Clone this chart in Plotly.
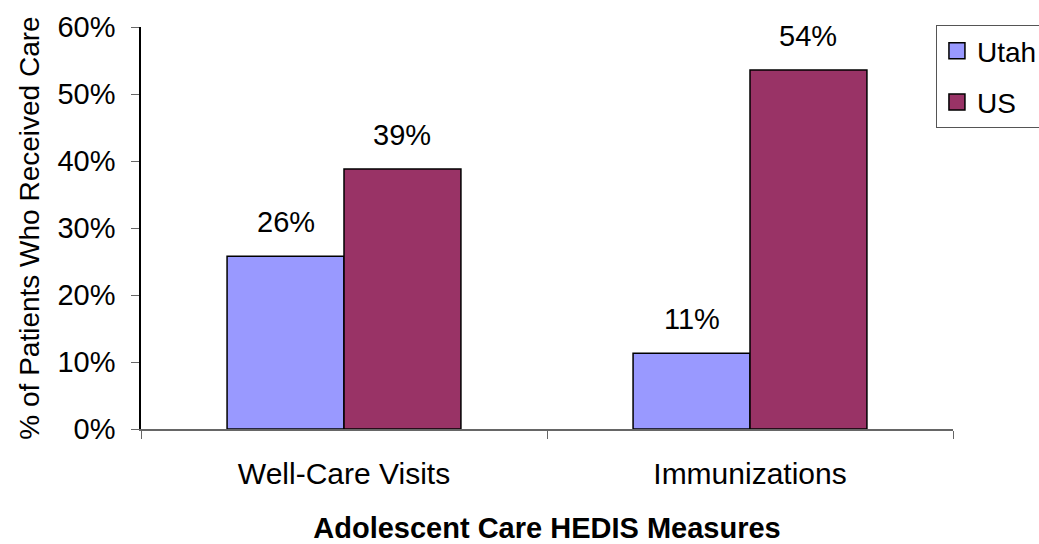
import plotly.graph_objects as go

categories = ["Well-Care Visits", "Immunizations"]
utah = [25.8, 11.3]
us = [38.8, 53.6]
series_names = ["Utah", "US"]
series_colors = ["#9999FF", "#993366"]
tick_vals = [0, 10, 20, 30, 40, 50, 60]
tick_text = ["0%", "10%", "20%", "30%", "40%", "50%", "60%"]

FONT = "Liberation Sans, Arial, sans-serif"
FS = 29
BARGAP = 0.424

fig = go.Figure()
for name, vals, col in zip(series_names, (utah, us), series_colors):
    fig.add_trace(go.Bar(name=name, x=categories, y=vals, showlegend=False,
                         marker=dict(color=col, line=dict(color="black", width=1.5))))
# legend entries with larger square swatches
for i, (name, col) in enumerate(zip(series_names, series_colors)):
    fig.add_trace(go.Scatter(name=name, x=[None], y=[None], mode="markers",
                             legendgroup=f"g{i}",
                             marker=dict(symbol="square", size=16, color=col,
                                         line=dict(color="black", width=1.5))))

off = (1 - BARGAP) / 4
for i, (u, s) in enumerate(zip(utah, us)):
    for dx, v in ((-off, u), (off, s)):
        fig.add_annotation(x=i + dx, y=v, xref="x", yref="y", text=f"{round(v)}%",
                           showarrow=False, yshift=34,
                           font=dict(family=FONT, size=FS, color="black"))

fig.update_layout(
    width=1039, height=544,
    margin=dict(l=141, r=86, t=27, b=115, autoexpand=False),
    paper_bgcolor="white", plot_bgcolor="white",
    barmode="group", bargap=BARGAP, bargroupgap=0,
    font=dict(family=FONT, size=FS, color="black"),
    legend=dict(x=0.979, y=1.005, xanchor="left", yanchor="top",
                bordercolor="#555555", borderwidth=1, bgcolor="white",
                font=dict(family=FONT, size=28), tracegroupgap=12,
                traceorder="grouped"),
    showlegend=True,
)

fig.update_xaxes(showline=True, linecolor="#666666", linewidth=1.5,
                 ticks="outside", tickson="boundaries", ticklen=8, tickcolor="#666666",
                 tickfont=dict(family=FONT, size=30), ticklabelstandoff=17,
                 title=dict(text="<b>Adolescent Care HEDIS Measures</b>",
                            font=dict(family=FONT, size=FS), standoff=30),
                 showgrid=False)
fig.update_yaxes(range=[0, 60], tickvals=tick_vals, ticktext=tick_text,
                 showline=True, linecolor="black", linewidth=1.5,
                 ticks="outside", ticklen=8, tickcolor="#666666",
                 tickfont=dict(family=FONT, size=FS), ticklabelstandoff=10,
                 title=dict(text="% of Patients Who Received Care",
                            font=dict(family=FONT, size=28), standoff=10),
                 showgrid=False, zeroline=False)

fig.write_html("out.html")
